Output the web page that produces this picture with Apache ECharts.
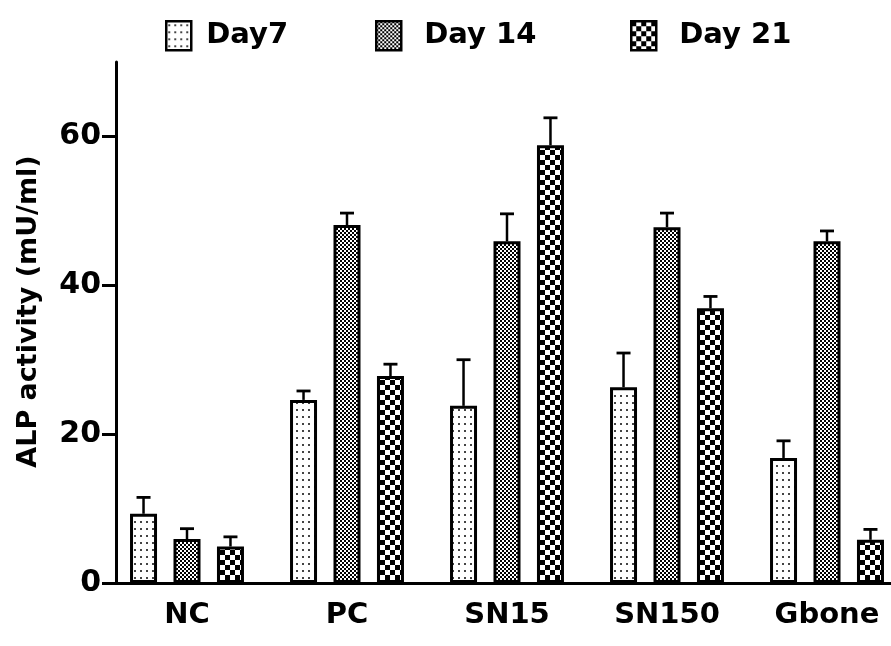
<!DOCTYPE html>
<html>
<head>
<meta charset="utf-8">
<script src="https://cdn.jsdelivr.net/npm/echarts@6/dist/echarts.min.js"></script>
<style>html,body{margin:0;padding:0;background:#fff;}#chart{width:891px;height:646px;}</style>
</head>
<body>
<div id="chart"></div>
<script>
// ---- data ----
var categories = ['NC', 'PC', 'SN15', 'SN150', 'Gbone'];
var seriesNames = ['Day7', 'Day 14', 'Day 21'];
var day7 = [9.3, 24.6, 23.8, 26.3, 16.8];
var day7Err = [2.2, 1.2, 6.2, 4.6, 2.3];
var day14 = [5.9, 48.1, 45.9, 47.8, 45.9];
var day14Err = [1.4, 1.6, 3.7, 1.9, 1.4];
var day21 = [4.9, 27.8, 58.8, 36.9, 5.8];
var day21Err = [1.3, 1.6, 3.7, 1.6, 1.4];
var yTicks = [0, 20, 40, 60];

// ---- patterns ----
function makeTile(w, h, draw) {
  var c = document.createElement('canvas');
  c.width = w; c.height = h;
  var ctx = c.getContext('2d');
  draw(ctx, w, h);
  return c;
}
var patDots = makeTile(6, 7, function (ctx, w, h) {
  ctx.fillStyle = '#fff'; ctx.fillRect(0, 0, w, h);
  ctx.fillStyle = '#444'; ctx.fillRect(2, 3, 2, 2);
});
var patFine = makeTile(4, 4, function (ctx, w, h) {
  ctx.fillStyle = '#fff'; ctx.fillRect(0, 0, w, h);
  ctx.fillStyle = '#000'; ctx.fillRect(0, 0, 2, 2); ctx.fillRect(2, 2, 2, 2);
});
var patChecker = makeTile(10, 10, function (ctx, w, h) {
  ctx.fillStyle = '#fff'; ctx.fillRect(0, 0, w, h);
  ctx.fillStyle = '#000'; ctx.fillRect(0, 0, 5, 5); ctx.fillRect(5, 5, 5, 5);
});
var patterns = [patDots, patFine, patChecker];

var FONT = '"DejaVu Sans", "Open Sans", sans-serif';
var BAR_W = 27;
var BAR_GAP = 0.61;
var step = BAR_W * (1 + BAR_GAP);
var offsets = [-step, 0, step];
var values = [day7, day14, day21];
var errs = [day7Err, day14Err, day21Err];

var chart = echarts.init(document.getElementById('chart'), null, { renderer: 'canvas' });

var series = [];
seriesNames.forEach(function (name, i) {
  series.push({
    name: name,
    type: 'bar',
    barWidth: BAR_W,
    barGap: (BAR_GAP * 100) + '%',
    data: values[i],
    itemStyle: {
      color: { image: patterns[i], repeat: 'repeat' },
      borderColor: '#000',
      borderWidth: 3
    },
    z: 3
  });
});
seriesNames.forEach(function (name, i) {
  var d = values[i].map(function (v, k) { return [k, v, v + errs[i][k]]; });
  series.push({
    name: name + ' err',
    type: 'custom',
    data: d,
    z: 2,
    encode: { x: 0, y: [1, 2] },
    renderItem: function (params, api) {
      var base = api.coord([api.value(0), api.value(1)]);
      var top = api.coord([api.value(0), api.value(2)]);
      var x = base[0] + offsets[i];
      var cap = 7;
      return {
        type: 'group',
        children: [
          { type: 'line', shape: { x1: x, y1: base[1], x2: x, y2: top[1] }, style: { stroke: '#000', lineWidth: 2.5 } },
          { type: 'line', shape: { x1: x - cap, y1: top[1], x2: x + cap, y2: top[1] }, style: { stroke: '#000', lineWidth: 2.8 } }
        ]
      };
    }
  });
});

function legendFor(i, left, pad) {
  return {
    data: [seriesNames[i]],
    left: left,
    top: 15,
    itemWidth: 25,
    itemHeight: 29,
    icon: 'rect',
    itemStyle: { borderColor: '#000', borderWidth: 2.5 },
    textStyle: { fontFamily: FONT, fontWeight: 'bold', fontSize: 29, color: '#000', padding: [0, 0, 0, pad] }
  };
}

chart.setOption({
  backgroundColor: '#fff',
  animation: false,
  legend: [legendFor(0, 160, 10), legendFor(1, 370, 18), legendFor(2, 625, 18)],
  grid: { left: 107, top: 62, width: 800, height: 521, containLabel: false, outerBoundsMode: 'none' },
  xAxis: {
    type: 'category',
    data: categories,
    axisLine: { lineStyle: { color: '#000', width: 3 } },
    axisTick: { alignWithLabel: true, length: 10, lineStyle: { color: '#000', width: 3 } },
    axisLabel: { fontFamily: FONT, fontWeight: 'bold', fontSize: 29, color: '#000', margin: 18 },
    splitLine: { show: false }
  },
  yAxis: {
    type: 'value',
    min: 0,
    max: 70,
    interval: 20,
    offset: -9,
    name: 'ALP activity (mU/ml)',
    nameLocation: 'middle',
    nameGap: 74,
    nameTextStyle: { fontFamily: FONT, fontWeight: 'bold', fontSize: 27, color: '#000', padding: [0, 0, 0, 22] },
    axisLine: { show: true, lineStyle: { color: '#000', width: 3 } },
    axisTick: { show: true, length: 14, customValues: yTicks, lineStyle: { color: '#000', width: 3 } },
    axisLabel: {
      fontFamily: FONT, fontWeight: 'bold', fontSize: 30, color: '#000', margin: 15,
      customValues: yTicks
    },
    splitLine: { show: false }
  },
  series: series
});
</script>
</body>
</html>
